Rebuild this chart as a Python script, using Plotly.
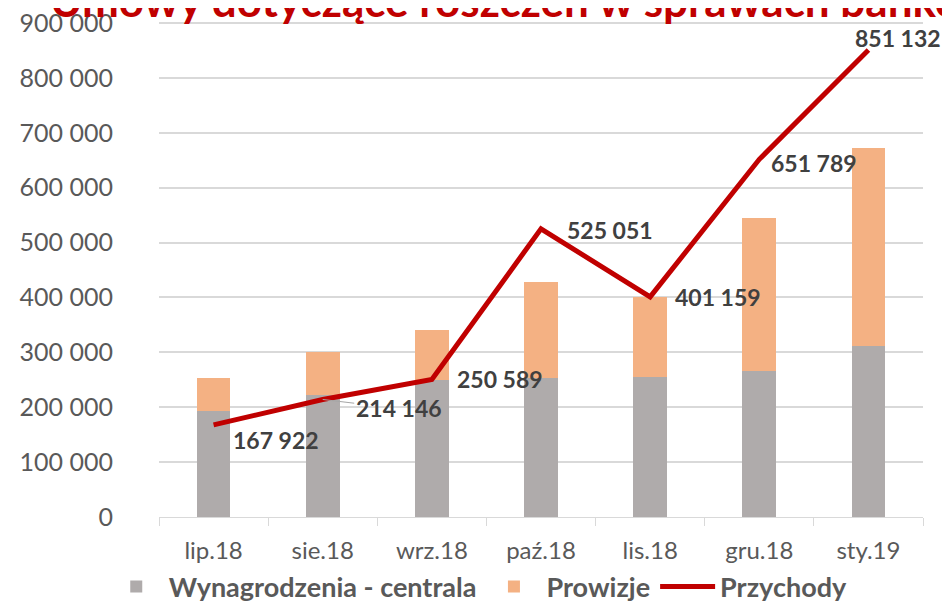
import plotly.graph_objects as go

months = ["lip.18", "sie.18", "wrz.18", "paź.18", "lis.18", "gru.18", "sty.19"]
wynagrodzenia = [193000, 222000, 250000, 253000, 255000, 266000, 311000]
prowizje = [60000, 78000, 90000, 175000, 146000, 278000, 362000]
przychody = [167922, 214146, 250589, 525051, 401159, 651789, 851132]
przychody_labels = ["167 922", "214 146", "250 589", "525 051", "401 159", "651 789", "851 132"]
y_ticks = [0, 100000, 200000, 300000, 400000, 500000, 600000, 700000, 800000, 900000]
y_tick_labels = ["0", "100 000", "200 000", "300 000", "400 000", "500 000",
                 "600 000", "700 000", "800 000", "900 000"]

# label offsets (styling, pixels)
label_dx = [17, 32, 23, 24, 23, 10, -15]
label_dy = [-15, -9, 0, -1, 0, -4, 12]

GRAY = "#AFABAB"
ORANGE = "#F4B183"
RED = "#C00000"
TXT = "#595959"
LBL = "#404040"
FONT = "Lato"

fig = go.Figure()
fig.add_trace(go.Bar(x=months, y=wynagrodzenia, name="Wynagrodzenia - centrala",
                     marker=dict(color=GRAY, line=dict(width=0))))
fig.add_trace(go.Bar(x=months, y=prowizje, name="Prowizje",
                     marker=dict(color=ORANGE, line=dict(width=0))))
fig.add_trace(go.Scatter(x=months, y=przychody, name="Przychody", mode="lines",
                         line=dict(color=RED, width=5)))

for i, (m, v, t) in enumerate(zip(months, przychody, przychody_labels)):
    if i == 1:
        fig.add_annotation(x=m, y=v, text="<b>" + t + "</b>", showarrow=True,
                           arrowhead=0, arrowwidth=1, arrowcolor="#A6A6A6",
                           ax=label_dx[i] + 44, ay=-label_dy[i], xanchor="center",
                           yanchor="middle",
                           font=dict(family=FONT, size=23, color=LBL))
    else:
        fig.add_annotation(x=m, y=v, text="<b>" + t + "</b>", showarrow=False,
                           xanchor="left", yanchor="middle",
                           xshift=label_dx[i], yshift=label_dy[i],
                           font=dict(family=FONT, size=23, color=LBL))

fig.update_layout(
    width=950, height=603,
    barmode="stack", bargap=0.69,
    plot_bgcolor="white", paper_bgcolor="white",
    margin=dict(l=151, r=35, t=14, b=94, autoexpand=False),
    title=dict(text="<b>Umowy dotyczące roszczeń w sprawach bankowych</b>",
               x=42 / 950, xanchor="left", xref="container",
               y=1 - 9 / 603, yanchor="bottom", yref="container",
               font=dict(family=FONT, size=44, color=RED)),
    showlegend=True,
    legend=dict(orientation="h", x=0.495, xanchor="center", xref="container",
                y=1 - 579 / 603, yanchor="middle", yref="container",
                font=dict(family=FONT, size=27, color=TXT),
                itemwidth=55, traceorder="normal"),
    font=dict(family=FONT, color=TXT),
)
fig.update_xaxes(type="category", range=[-0.5, 6.5], autorange=False,
                 showgrid=False, showline=True, linecolor="#D9D9D9",
                 linewidth=1, ticks="outside", tickson="boundaries", ticklen=8,
                 tickcolor="#D9D9D9", ticklabelstandoff=12, automargin=False,
                 tickfont=dict(family=FONT, size=24, color=TXT))
fig.update_yaxes(range=[0, 902000], autorange=False, tickvals=y_ticks, ticktext=y_tick_labels,
                 showgrid=True, gridcolor="#D9D9D9", gridwidth=1.5, zeroline=False,
                 showline=False, ticks="", ticklabelstandoff=45, automargin=False,
                 ticklabeloverflow="allow",
                 tickfont=dict(family=FONT, size=25, color=TXT))

for tr in fig.data:
    tr.name = "<b>" + tr.name + "</b>"

fig.write_html("out.html")
